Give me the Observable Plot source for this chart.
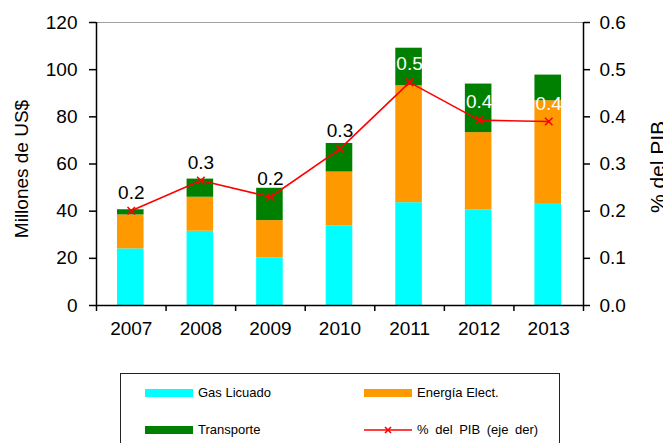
<!DOCTYPE html>
<html><head><meta charset="utf-8">
<script src="https://cdn.jsdelivr.net/npm/d3@7"></script>
<script src="https://cdn.jsdelivr.net/npm/@observablehq/plot@0.6"></script>
<style>
body{margin:0;background:#fff;overflow:hidden;font-family:"Liberation Sans",Arial,sans-serif}
#wrap{position:relative;width:663px;height:443px;overflow:hidden}
#chart{position:absolute;left:0;top:0}
#legend{position:absolute;left:120px;top:373px;width:440px;height:90px;border:1px solid #222;box-sizing:border-box}
.sw{position:absolute;width:48px;height:8px}
.lt{position:absolute;font-size:13px;line-height:14px;color:#000;white-space:nowrap}
</style></head>
<body><div id="wrap"><div id="chart"></div><div id="legend"></div></div>
<script>
const years = ["2007","2008","2009","2010","2011","2012","2013"];
const gasLicuado = [24.0, 31.5, 20.2, 33.7, 43.6, 40.5, 42.9];
const energiaElect = [14.4, 14.4, 15.8, 22.9, 49.6, 32.8, 43.9];
const transporte = [2.2, 7.7, 13.7, 12.1, 15.9, 20.6, 10.9];
const pctPIB = [0.201, 0.265, 0.230, 0.332, 0.473, 0.393, 0.390];
const seriesNames = ["Gas Licuado", "Energía Elect.", "Transporte"];
const lineName = "% del PIB (eje der)";
const leftTicks = [0, 20, 40, 60, 80, 100, 120];
const rightTicks = [0.0, 0.1, 0.2, 0.3, 0.4, 0.5, 0.6];
const colors = ["#00FFFF", "#FF9900", "#008000"];

const RATIO = 120 / 0.6;
const seriesValues = [gasLicuado, energiaElect, transporte];
const rows = [];
years.forEach((yr, i) => {
  let base = 0;
  seriesValues.forEach((arr, k) => {
    rows.push({i, serie: seriesNames[k], y1: base, y2: base + arr[i]});
    base += arr[i];
  });
});
const pts = years.map((yr, i) => ({i, x: i + 0.5, v: pctPIB[i], label: pctPIB[i].toFixed(1)}));

const chart = Plot.plot({
  width: 663, height: 360,
  marginLeft: 96, marginRight: 80, marginTop: 22, marginBottom: 55,
  x: {domain: [0, years.length]},
  y: {domain: [0, 120]},
  color: {domain: seriesNames, range: colors},
  style: {fontFamily: "'Liberation Sans', Arial, sans-serif", fontSize: "19px", color: "#000", background: "#fff"},
  marks: [
    Plot.rect(rows, {x1: "i", x2: d => d.i + 1, y1: "y1", y2: "y2", fill: "serie", insetLeft: 21, insetRight: 22}),
    Plot.ruleY([120], {stroke: "#a0a0a0", strokeWidth: 1}),
    Plot.ruleX([0, years.length], {stroke: "#000", strokeWidth: 1.5}),
    Plot.ruleY([0], {stroke: "#000", strokeWidth: 1.5}),
    Plot.axisY({anchor: "left", ticks: leftTicks, tickSize: 7, tickPadding: 12, label: null, strokeWidth: 1.5, fontSize: 19}),
    Plot.axisY({anchor: "right", ticks: rightTicks.map(t => t * RATIO), tickFormat: d => (d / RATIO).toFixed(1), tickSize: 6, tickPadding: 10, label: null, strokeWidth: 1.5, fontSize: 19}),
    Plot.axisX({ticks: d3.range(years.length + 1), tickFormat: () => "", tickSize: 6, label: null, strokeWidth: 1.5}),
    Plot.axisX({ticks: years.map((y, i) => i + 0.5), tickFormat: d => years[Math.floor(d)], tickSize: 0, tickPadding: 16, label: null, fontSize: 19}),
    Plot.line(pts, {x: "x", y: d => d.v * RATIO, stroke: "#FF0000", strokeWidth: 1.6}),
    Plot.dot(pts, {x: "x", y: d => d.v * RATIO, symbol: "times", r: 3.5, stroke: "#FF0000", strokeWidth: 1.6}),
    Plot.text(pts, {x: "x", y: d => d.v * RATIO, text: "label", dy: -18, fill: d => d.i >= 4 ? "#fff" : "#000", fontSize: 19}),
    Plot.text(["Millones de US$"], {frameAnchor: "left", textAnchor: "middle", rotate: -90, dx: -75, dy: 5, fontSize: 19, fill: "#000"}),
    Plot.text(["% del PIB"], {frameAnchor: "right", textAnchor: "middle", rotate: -90, dx: 75, dy: 3, fontSize: 21, fill: "#000"})
  ]
});
document.getElementById("chart").appendChild(chart);

// Legend
const legend = document.getElementById("legend");
const items = [
  {name: seriesNames[0], color: colors[0], col: 0, row: 0},
  {name: seriesNames[1], color: colors[1], col: 1, row: 0},
  {name: seriesNames[2], color: colors[2], col: 0, row: 1},
  {name: lineName, line: true, col: 1, row: 1}
];
items.forEach(it => {
  const left = it.col === 0 ? 24 : 243;
  const cy = it.row === 0 ? 19 : 56;
  if (it.line) {
    const s = document.createElementNS("http://www.w3.org/2000/svg", "svg");
    s.setAttribute("width", 48); s.setAttribute("height", 12);
    s.style.position = "absolute"; s.style.left = left + "px"; s.style.top = (cy - 6) + "px";
    s.innerHTML = '<line x1="0" y1="6" x2="48" y2="6" stroke="#FF0000" stroke-width="1.6"/>' +
      '<path d="M21,3L27,9M27,3L21,9" stroke="#FF0000" stroke-width="1.6"/>';
    legend.appendChild(s);
  } else {
    const sw = document.createElement("div");
    sw.className = "sw"; sw.style.background = it.color;
    sw.style.left = left + "px"; sw.style.top = (cy - 4) + "px";
    legend.appendChild(sw);
  }
  const t = document.createElement("div");
  t.className = "lt"; t.textContent = it.name;
  t.style.left = (left + 53) + "px"; t.style.top = (cy - 7) + "px";
  if (it.line) t.style.wordSpacing = "3px";
  legend.appendChild(t);
});
</script>
</body></html>
